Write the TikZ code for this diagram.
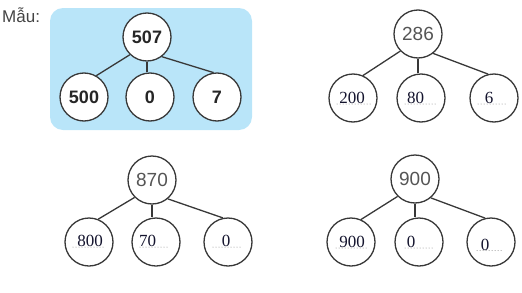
\documentclass[tikz,border=0pt]{standalone}
\usepackage{fontspec}
\setmainfont{Liberation Sans}
\newfontfamily\serifnum{Liberation Serif}
\definecolor{linec}{HTML}{383838}
\definecolor{topc}{HTML}{555555}
\definecolor{ansc}{HTML}{14142E}
\definecolor{boxc}{HTML}{B9E5F9}
\definecolor{labc}{HTML}{444444}
\definecolor{dotc}{HTML}{8A8A8A}
\begin{document}
\begin{tikzpicture}[x=1pt,y=-1pt,
  circ/.style={circle,draw=linec,line width=1.3pt,fill=white,minimum size=48pt,inner sep=0pt},
  topnum/.style={circ,font=\fontsize{19}{19}\selectfont,text=topc},
  samp/.style={circ,font=\bfseries\fontsize{18}{18}\selectfont,text=black!85},
  conn/.style={draw=linec,line width=1.3pt},
  dotline/.style={draw=dotc,line width=1pt,line cap=round,dash pattern=on 0pt off 3pt},
  ans/.style={font=\serifnum\fontsize{17}{17}\selectfont,text=ansc,inner sep=0pt,anchor=base}]
\useasboundingbox (0,0) rectangle (522,292);
% label
\node[anchor=west,inner sep=0pt,font=\fontsize{17}{17}\selectfont,text=labc] (lab) at (2,15) {Mẫu:};
% sample box
\fill[boxc,rounded corners=13pt] (50,8) rectangle (252,130);
\node[samp] (s0) at (147,37) {507};
\node[samp] (s1) at (84,97) {500};
\node[samp] (s2) at (150,97) {0};
\node[samp] (s3) at (217,97) {7};
\draw[conn] (s0.226) -- (s1.60);
\draw[conn] (s0.south) -- (s0.south |- s2.north);
\draw[conn] (s0.-53) -- (s3.98);
% tree 286
\node[topnum] (a0) at (418,34) {286};
\node[circ] (a1) at (353,98) {};
\node[circ] (a2) at (421,98) {};
\node[circ] (a3) at (494,98) {};
\draw[conn] (a0.224) -- (a1.66);
\draw[conn] (a0.south) -- (a0.south |- a2.north);
\draw[conn] (a0.-52) -- (a3.104);
% tree 870
\node[topnum] (b0) at (152,180) {870};
\node[circ] (b1) at (89,242) {};
\node[circ] (b2) at (156,242) {};
\node[circ] (b3) at (228,242) {};
\draw[conn] (b0.225) -- (b1.68);
\draw[conn] (b0.south) -- (b0.south |- b2.north);
\draw[conn] (b0.-50) -- (b3.102);
% tree 900
\node[topnum] (c0) at (415,179) {900};
\node[circ] (c1) at (351,242) {};
\node[circ] (c2) at (419,242) {};
\node[circ] (c3) at (491,242) {};
\draw[conn] (c0.225) -- (c1.66);
\draw[conn] (c0.south) -- (c0.south |- c2.north);
\draw[conn] (c0.-50) -- (c3.104);
% dotted answer lines
\draw[dotline] (337,104) -- (370,104);
\draw[dotline] (405,104) -- (436,104);
\draw[dotline] (478,104) -- (507,104);
\draw[dotline] (73,247) -- (105,247);
\draw[dotline] (140,247) -- (168,247);
\draw[dotline] (213,247) -- (240,247);
\draw[dotline] (336,248) -- (367,248);
\draw[dotline] (405,248) -- (432,248);
\draw[dotline] (477,250.5) -- (503,250.5);
% answers
\node[ans] (a1t) at (352,103) {200};
\node[ans,anchor=base west] (a2t) at (407,103) {80};
\node[ans] (a3t) at (489,103) {6};
\node[ans] (b1t) at (90,246) {800};
\node[ans,anchor=base west] (b2t) at (139,246) {70};
\node[ans] (b3t) at (226,246) {0};
\node[ans] (c1t) at (352,247) {900};
\node[ans] (c2t) at (411,247) {0};
\node[ans] (c3t) at (485,250) {0};
\end{tikzpicture}
\end{document}
